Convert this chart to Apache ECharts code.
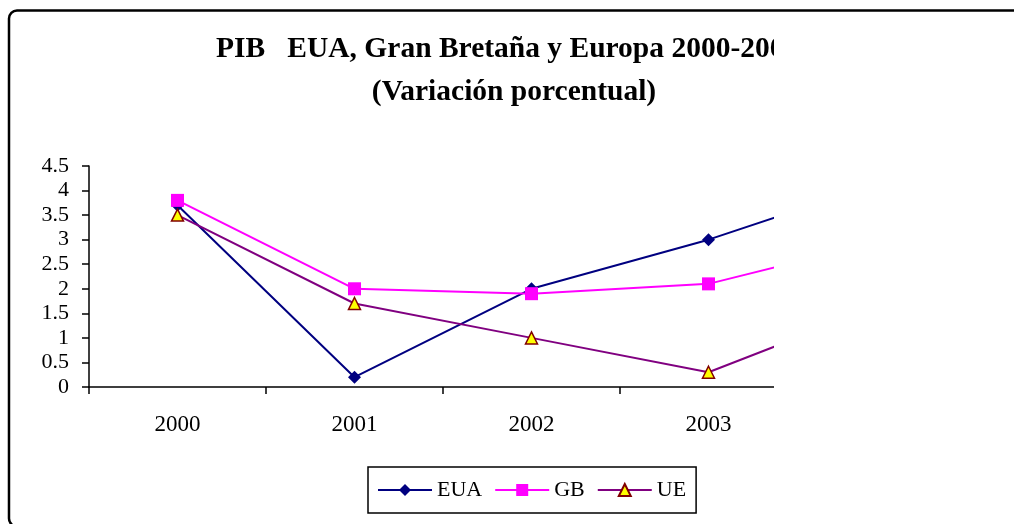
<!DOCTYPE html>
<html>
<head>
<meta charset="utf-8">
<script src="https://cdn.jsdelivr.net/npm/echarts@6/dist/echarts.min.js"></script>
<style>html,body{margin:0;padding:0;background:#fff}#c{width:1014px;height:524px}</style>
</head>
<body>
<div id="c"></div>
<script>
const years = ['2000', '2001', '2002', '2003', '2004'];
const eua = [3.7, 0.2, 2.0, 3.0, 4.2];
const gb = [3.8, 2.0, 1.9, 2.1, 3.0];
const ue = [3.5, 1.7, 1.0, 0.3, 1.7];
const titleLine1 = 'PIB   EUA, Gran Bretaña y Europa 2000-2004';
const titleLine2 = '(Variación porcentual)';

const serif = 'Liberation Serif, Times New Roman, serif';
const titleStyle = { fontFamily: serif, fontSize: 29.5, fontWeight: 'bold', color: '#000', lineHeight: 43 };
const chart = echarts.init(document.getElementById('c'));
chart.setOption({
  animation: false,
  backgroundColor: '#fff',
  title: [
    { text: titleLine1, left: 216, top: 28, padding: 0, textStyle: titleStyle },
    { text: titleLine2, left: 514, top: 71, padding: 0, textAlign: 'center', textStyle: titleStyle }
  ],
  grid: { left: 89, top: 166, right: 40, height: 221, containLabel: false },
  xAxis: {
    type: 'category',
    data: years,
    boundaryGap: true,
    axisLine: { lineStyle: { color: '#000', width: 1.5 } },
    axisTick: { show: true, length: 7, lineStyle: { color: '#000', width: 1.5 } },
    axisLabel: { margin: 26, fontFamily: serif, fontSize: 23, color: '#000' },
    splitLine: { show: false }
  },
  yAxis: {
    type: 'value',
    min: 0,
    max: 4.5,
    interval: 0.5,
    axisLine: { show: true, lineStyle: { color: '#000', width: 1.5 } },
    axisTick: { show: true, length: 7, lineStyle: { color: '#000', width: 1.5 } },
    axisLabel: { margin: 20, fontFamily: serif, fontSize: 22, color: '#000' },
    splitLine: { show: false }
  },
  legend: {
    left: 368,
    top: 467,
    orient: 'horizontal',
    padding: [12, 10, 12, 9],
    itemWidth: 54,
    itemHeight: 15,
    itemGap: 12,
    borderColor: '#000',
    borderWidth: 1.5,
    textStyle: { fontFamily: serif, fontSize: 22, color: '#000' },
    data: ['EUA', 'GB', 'UE']
  },
  series: [
    {
      name: 'EUA', type: 'line', data: eua,
      symbol: 'diamond', symbolSize: 13,
      lineStyle: { color: '#000080', width: 2 },
      itemStyle: { color: '#000080' }
    },
    {
      name: 'GB', type: 'line', data: gb,
      symbol: 'rect', symbolSize: 13,
      lineStyle: { color: '#ff00ff', width: 2 },
      itemStyle: { color: '#ff00ff' }
    },
    {
      name: 'UE', type: 'line', data: ue,
      symbol: 'triangle', symbolSize: 12,
      lineStyle: { color: '#800080', width: 2 },
      itemStyle: { color: '#ffff00', borderColor: '#800000', borderWidth: 1.5 }
    }
  ],
  graphic: [
    {
      type: 'rect', z: 100,
      shape: { x: 774, y: 12, width: 260, height: 520 },
      style: { fill: '#fff' }
    },
    {
      type: 'rect', z: 101,
      shape: { x: 9, y: 10.5, width: 1200, height: 516, r: 8 },
      style: { fill: null, stroke: '#000', lineWidth: 2.5 }
    }
  ]
});
</script>
</body>
</html>
